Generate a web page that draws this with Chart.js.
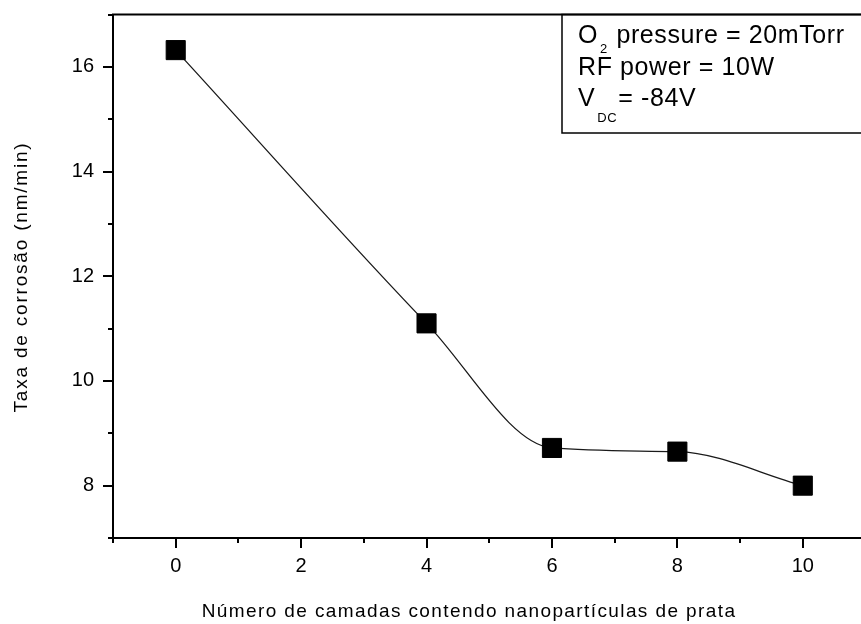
<!DOCTYPE html>
<html>
<head>
<meta charset="utf-8">
<script src="https://cdn.jsdelivr.net/npm/chart.js@4.4.1/dist/chart.umd.min.js"></script>
<style>
  html, body { margin: 0; padding: 0; background: #fff; overflow: hidden; }
  #wrap { width: 880px; height: 624px; }
</style>
</head>
<body>
<div id="wrap"><canvas id="c" width="880" height="624"></canvas></div>
<script>
// Etch rate versus number of layers containing silver nanoparticles
const layers = [0, 4, 6, 8, 10];
const etchRate = [16.32, 11.1, 8.72, 8.65, 8.0];

const xTickLabels = [0, 2, 4, 6, 8, 10];
const yTickLabels = [8, 10, 12, 14, 16];

const xTitle = 'Número de camadas contendo nanopartículas de prata';
const yTitle = 'Taxa de corrosão (nm/min)';
const noteLines = [
  ['O', '2', ' pressure = 20mTorr'],
  ['RF power = 10W', '', ''],
  ['V', 'DC', '= -84V']
];

const FONT = '"Liberation Sans", Arial, sans-serif';

const frameAndNotes = {
  id: 'frameAndNotes',
  afterDraw(chart) {
    const { ctx, chartArea: a, scales } = chart;
    const xs = scales.x, ys = scales.y;
    ctx.save();
    ctx.strokeStyle = '#000';
    ctx.lineWidth = 2;
    // frame
    ctx.strokeRect(a.left, a.top, a.right - a.left, a.bottom - a.top);
    // major / minor tick marks, pointing outward
    ctx.beginPath();
    for (let v = ys.min; v <= ys.max; v++) {
      const len = yTickLabels.includes(v) ? 10 : 5;
      const y = Math.round(ys.getPixelForValue(v));
      ctx.moveTo(a.left - len, y);
      ctx.lineTo(a.left, y);
    }
    for (let v = xs.min; v <= xs.max; v++) {
      const len = xTickLabels.includes(v) ? 10 : 5;
      const x = Math.round(xs.getPixelForValue(v));
      ctx.moveTo(x, a.bottom);
      ctx.lineTo(x, a.bottom + len);
    }
    ctx.stroke();

    // axis titles
    ctx.fillStyle = '#000';
    ctx.font = '19px ' + FONT;
    ctx.textBaseline = 'alphabetic';
    ctx.textAlign = 'center';
    ctx.letterSpacing = '1.4px';
    ctx.fillText(xTitle, 469, 617);
    ctx.save();
    ctx.translate(27, 277);
    ctx.rotate(-Math.PI / 2);
    ctx.letterSpacing = '1.8px';
    ctx.fillText(yTitle, 0, 0);
    ctx.restore();

    // note box in the upper right corner
    const bx = 562, by = a.top, bb = 133;
    ctx.lineWidth = 1.5;
    ctx.strokeRect(bx, by, a.right + 10 - bx, bb - by);
    ctx.textAlign = 'left';
    ctx.letterSpacing = '0.6px';
    const baselines = [43, 75, 106];
    const subDrop = [10, 0, 16];
    noteLines.forEach((parts, i) => {
      let x = 578;
      const y = baselines[i];
      ctx.font = '25px ' + FONT;
      ctx.fillText(parts[0], x, y);
      x += ctx.measureText(parts[0]).width;
      if (parts[1]) {
        ctx.font = '13px ' + FONT;
        ctx.fillText(parts[1], x + 2, y + subDrop[i]);
        x += ctx.measureText(parts[1]).width + 3;
      }
      if (parts[2]) {
        ctx.font = '25px ' + FONT;
        ctx.fillText(parts[2], x, y);
      }
    });
    ctx.restore();
  }
};

new Chart(document.getElementById('c'), {
  type: 'line',
  data: {
    datasets: [{
      data: layers.map((x, i) => ({ x, y: etchRate[i] })),
      borderColor: '#1a1a1a',
      borderWidth: 1.3,
      cubicInterpolationMode: 'monotone',
      pointStyle: 'rect',
      pointRadius: 13.5,
      pointHoverRadius: 13.5,
      pointBorderWidth: 1,
      pointBackgroundColor: '#000',
      pointBorderColor: '#000',
      fill: false
    }]
  },
  options: {
    responsive: false,
    animation: false,
    events: [],
    layout: { padding: { top: 13, right: 7, left: 0, bottom: 0 } },
    plugins: { legend: { display: false }, tooltip: { enabled: false } },
    scales: {
      x: {
        type: 'linear',
        min: -1,
        max: 11,
        border: { display: false },
        grid: { display: false, drawTicks: false },
        ticks: {
          stepSize: 1,
          padding: 16,
          color: '#000',
          font: { family: FONT, size: 20 },
          maxRotation: 0,
          autoSkip: false,
          callback: v => (xTickLabels.includes(v) ? String(v) : '')
        },
        afterFit(s) { s.height = 86; s.paddingLeft = 0; s.paddingRight = 0; }
      },
      y: {
        type: 'linear',
        min: 7,
        max: 17,
        border: { display: false },
        grid: { display: false, drawTicks: false },
        ticks: {
          stepSize: 1,
          padding: 19,
          color: '#000',
          font: { family: FONT, size: 20 },
          autoSkip: false,
          callback: v => (yTickLabels.includes(v) ? String(v) : '')
        },
        afterFit(s) { s.width = 113; s.paddingTop = 0; s.paddingBottom = 0; }
      }
    }
  },
  plugins: [frameAndNotes]
});
</script>
</body>
</html>
